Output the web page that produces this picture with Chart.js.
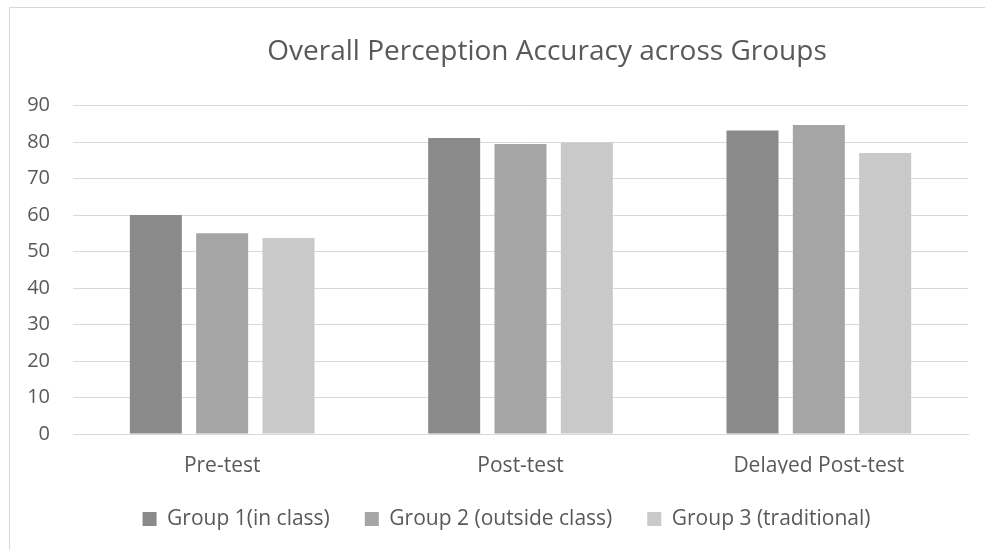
<!DOCTYPE html>
<html>
<head>
<meta charset="utf-8">
<script src="https://cdn.jsdelivr.net/npm/chart.js@4"></script>
<style>
  html, body { margin: 0; padding: 0; background: #fff; overflow: hidden; }
  #wrap { position: relative; width: 985px; height: 550px; overflow: hidden; }
  #frame { position: absolute; left: 9px; top: 7px; width: 1100px; height: 600px;
           border-left: 1px solid #d9d9d9; border-top: 1px solid #d9d9d9; }
  #mycanvas { position: absolute; left: 0; top: 0; }
</style>
</head>
<body>
<div id="wrap">
  <div id="frame"></div>
  <canvas id="mycanvas" width="1067" height="550"></canvas>
</div>
<script>
var chartTitle = "Overall Perception Accuracy across Groups";
var tests = ["Pre-test", "Post-test", "Delayed Post-test"];
var groupNames = ["Group 1(in class)", "Group 2 (outside class)", "Group 3 (traditional)"];
var group1 = [60.0, 81.1, 83.2];
var group2 = [55.0, 79.5, 84.7];
var group3 = [53.7, 79.9, 77.0];
var yTicks = [0, 10, 20, 30, 40, 50, 60, 70, 80, 90];

var textColor = "#595959";
var gridColor = "#d9d9d9";
var fontName = "'Open Sans', sans-serif";

Chart.defaults.font.family = fontName;
Chart.defaults.color = textColor;

var chartdata = {
	labels: tests,
	datasets: [
		{ label: groupNames[0], data: group1, backgroundColor: "#8a8a8a" },
		{ label: groupNames[1], data: group2, backgroundColor: "#a5a5a5" },
		{ label: groupNames[2], data: group3, backgroundColor: "#c9c9c9" }
	]
};

// nudge the legend a little to the left, like the excel original
var legendShift = {
	id: 'legendShift',
	afterLayout: function(chart) {
		chart.legend.left -= 14;
		chart.legend.right -= 14;
	}
};

var ctx = document.getElementById("mycanvas");

var BarGraph = new Chart(ctx, {
	type: 'bar',
	data: chartdata,
	plugins: [legendShift],
	options: {
		responsive: false,
		animation: false,
		datasets: {
			bar: { categoryPercentage: 0.667, barPercentage: 0.784 }
		},
		layout: { padding: { left: 27, right: 0, top: 0, bottom: 10.5 } },
		plugins: {
			title: {
				display: true,
				text: chartTitle,
				color: textColor,
				font: { size: 28, weight: 'normal' },
				padding: { top: 35, bottom: 37 }
			},
			legend: {
				position: 'bottom',
				fullSize: false,
				labels: {
					boxWidth: 14,
					boxHeight: 14,
					padding: 35,
					color: textColor,
					font: { size: 21 }
				}
			},
			tooltip: { enabled: false }
		},
		scales: {
			x: {
				grid: { display: false, drawTicks: false },
				border: { display: true, color: gridColor, width: 1 },
				ticks: { padding: 19, font: { size: 21 }, color: textColor },
				afterFit: function(scale) { scale.height = 39.5; }
			},
			y: {
				min: 0,
				max: 90,
				afterBuildTicks: function(scale) {
					scale.ticks = yTicks.map(function(v) { return { value: v }; });
				},
				grid: { color: gridColor, lineWidth: 1, drawTicks: false },
				border: { display: false },
				ticks: { padding: 23, font: { size: 20 }, color: textColor },
				afterFit: function(scale) { scale.width = 46; }
			},
			yR: {
				position: 'right',
				grid: { display: false, drawTicks: false },
				border: { display: false },
				ticks: { display: false },
				afterFit: function(scale) { scale.width = 99; }
			}
		}
	}
});
</script>
</body>
</html>
